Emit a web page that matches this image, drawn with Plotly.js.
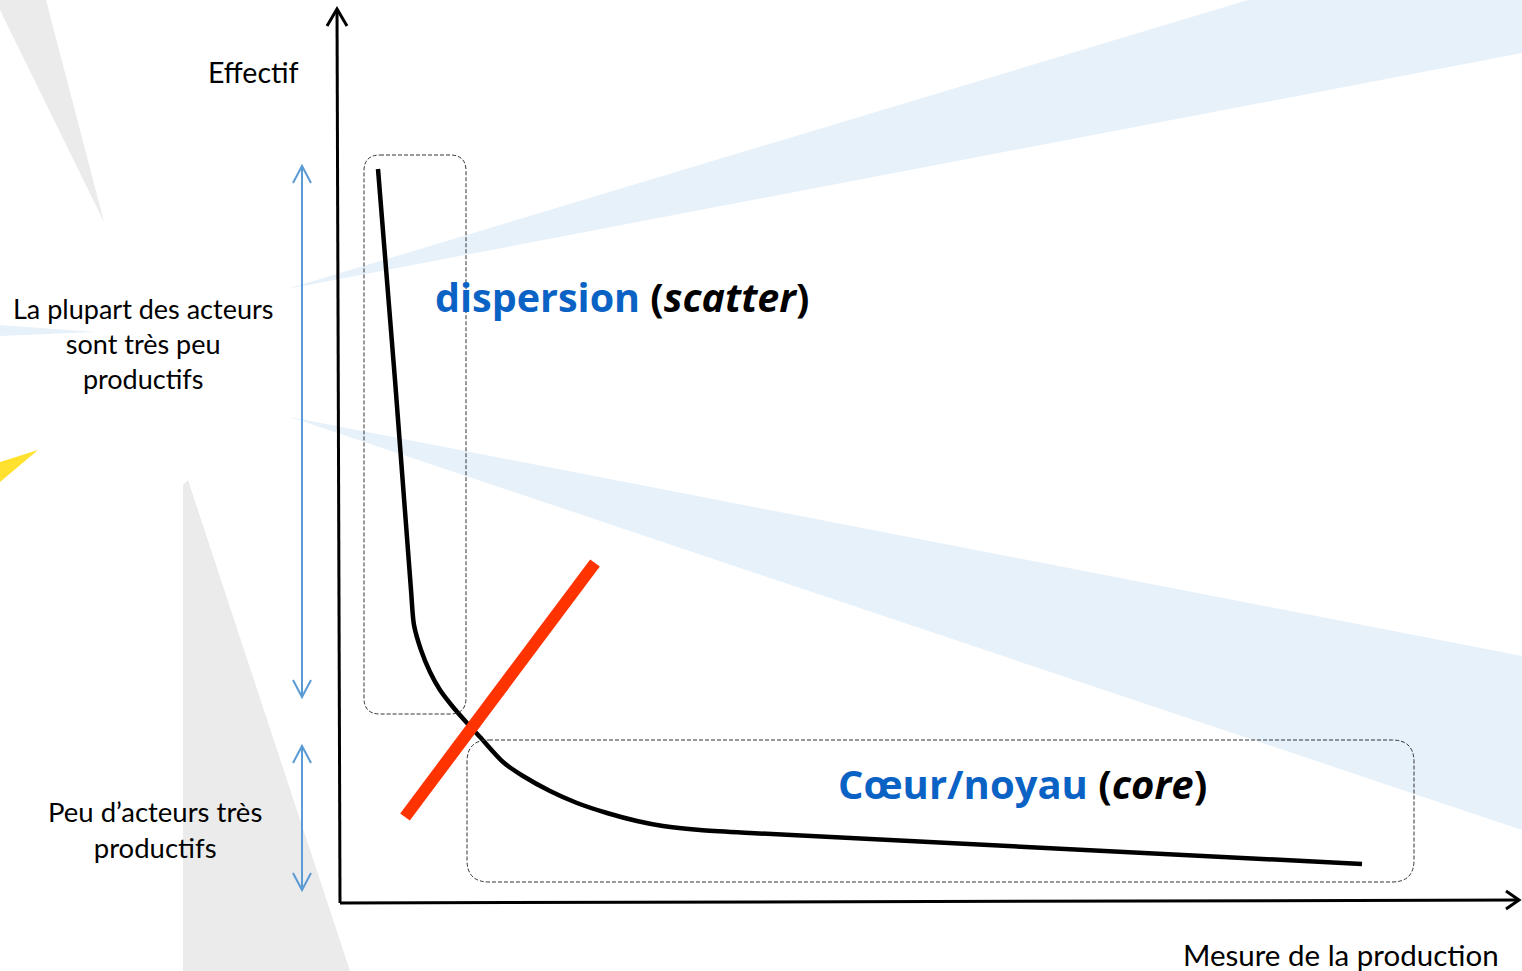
<!DOCTYPE html>
<html>
<head>
<meta charset="utf-8">
<script src="https://cdn.plot.ly/plotly-3.0.1.min.js"></script>
<style>html,body{margin:0;padding:0;background:#fff;}#chart{width:1522px;height:971px;}</style>
</head>
<body>
<div id="chart"></div>
<script>
// Curve: "Mesure de la production" (x) vs "Effectif" (y), in drawing units from the axes origin
const production = [38, 55, 71, 74, 81, 90, 100, 113, 127, 140, 163, 183, 210, 237, 267, 297, 323, 360, 410, 1022];
const effectif   = [734, 523, 313, 278, 253, 231, 213, 196, 180, 166, 141, 127, 112, 100, 90, 82, 77, 73, 70, 39];
// Red separating line (endpoints)
const cutX = [65, 255];
const cutY = [86, 340];
// Texts
const yAxisLabel = "Effectif";
const xAxisLabel = "Mesure de la production";
const upperNote = "La plupart des acteurs<br>sont très peu<br>productifs";
const lowerNote = "Peu d’acteurs très<br>productifs";
const scatterLabel = "<span style='color:#0A63C4'>dispersion</span> (<i>scatter</i>)";
const coreLabel = "<span style='color:#0A63C4'>Cœur/noyau</span> (<i>core</i>)";

const OX = 340, OY = 903; // page position of the origin
const X = px => px - OX;
const Y = py => OY - py;
function path(pts, close) {
  return pts.map((p, i) => (i ? 'L' : 'M') + X(p[0]) + ',' + Y(p[1])).join(' ') + (close ? ' Z' : '');
}
function rrect(x0, y0, x1, y1, r) {
  const a = X(x0), b = X(x1), t = Y(y0), u = Y(y1);
  return `M${a + r},${t} L${b - r},${t} Q${b},${t} ${b},${t - r} L${b},${u + r} Q${b},${u} ${b - r},${u} L${a + r},${u} Q${a},${u} ${a},${u + r} L${a},${t - r} Q${a},${t} ${a + r},${t} Z`;
}
const bg = (pts, color) => ({type: 'path', path: path(pts, true), fillcolor: color, line: {width: 0}, layer: 'below'});
const ln = (pts, color, w) => ({type: 'path', path: path(pts, false), line: {color: color, width: w}, layer: 'above'});

const shapes = [
  bg([[287, 289], [1248, 0], [1522, 0], [1522, 53]], '#E7F1FA'),
  bg([[290, 417], [1522, 656], [1522, 830]], '#E7F1FA'),
  bg([[0, 325], [95, 332], [0, 336]], '#E7F1FA'),
  bg([[0, 0], [46, 0], [104, 222], [0, 10]], '#EBEBEB'),
  bg([[183, 485], [188, 480], [350, 971], [183, 971]], '#EBEBEB'),
  bg([[0, 462], [38, 450], [0, 482]], '#FFE12E'),
  // dashed regions
  {type: 'path', path: rrect(364, 155, 466, 714, 16), line: {color: '#333', width: 1, dash: '4px,2px'}, layer: 'above'},
  {type: 'path', path: rrect(467, 740, 1414, 882, 22), line: {color: '#333', width: 1, dash: '4px,2px'}, layer: 'above'},
  // axes arrows
  ln([[340, 903], [337, 9]], '#000', 3),
  ln([[327, 26], [337, 9], [347, 26]], '#000', 3),
  ln([[340, 903], [1519, 900]], '#000', 3),
  ln([[1506, 891], [1519, 900], [1506, 909]], '#000', 3),
  // blue double arrows
  ln([[302, 166], [302, 697]], '#5B9BD5', 2),
  ln([[293, 183], [302, 166], [311, 183]], '#5B9BD5', 2),
  ln([[293, 680], [302, 697], [311, 680]], '#5B9BD5', 2),
  ln([[302, 746], [302, 890]], '#5B9BD5', 2),
  ln([[293, 763], [302, 746], [311, 763]], '#5B9BD5', 2),
  ln([[293, 873], [302, 890], [311, 873]], '#5B9BD5', 2)
];

const F = 'Lato, "Open Sans", sans-serif';
const FB = '"Open Sans", Lato, sans-serif';
const ann = (px, py, text, size, xanchor, font) => ({
  x: X(px), y: Y(py), xref: 'x', yref: 'y', text: text,
  showarrow: false, xanchor: xanchor, yanchor: 'middle', align: 'center',
  font: {family: font || F, size: size, color: '#000'}
});
const annotations = [
  ann(301, 72, yAxisLabel, 28.5, 'right'),
  ann(143, 343, upperNote, 27, 'center'),
  ann(155, 829, lowerNote, 27.5, 'center'),
  ann(433, 297, '<b>' + scatterLabel + '</b>', 39.5, 'left', FB),
  ann(836, 783, '<b>' + coreLabel + '</b>', 40, 'left', FB),
  ann(1501, 954, xAxisLabel, 29.5, 'right')
];

const traces = [
  {x: production, y: effectif, mode: 'lines', line: {color: '#000', width: 4.5, shape: 'spline', smoothing: 0.8}, hoverinfo: 'skip'},
  {x: cutX, y: cutY, mode: 'lines', line: {color: '#FF3300', width: 12}, hoverinfo: 'skip'}
];

Plotly.newPlot('chart', traces, {
  width: 1522, height: 971,
  margin: {l: 0, r: 0, t: 0, b: 0},
  paper_bgcolor: '#fff', plot_bgcolor: 'rgba(0,0,0,0)',
  showlegend: false,
  xaxis: {range: [X(0), X(1522)], visible: false, fixedrange: true},
  yaxis: {range: [Y(971), Y(0)], visible: false, fixedrange: true},
  shapes: shapes, annotations: annotations
}, {displayModeBar: false, staticPlot: true});
</script>
</body>
</html>
